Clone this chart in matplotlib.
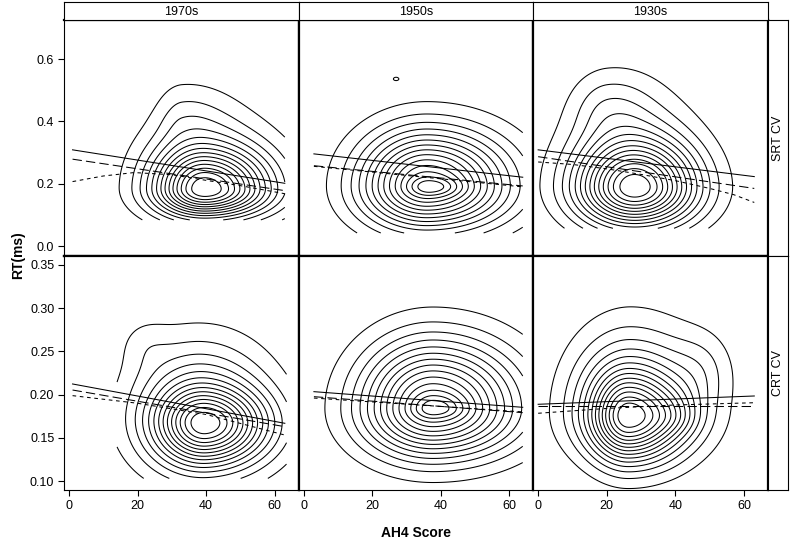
import numpy as np
import matplotlib.pyplot as plt

plt.rcParams['font.family'] = ['Liberation Sans', 'DejaVu Sans']

decades = ['1970s', '1950s', '1930s']
measures = ['SRT CV', 'CRT CV']
y_limits = {'SRT CV': (-0.032, 0.726), 'CRT CV': (0.0896, 0.3604)}
y_ticks = {'SRT CV': [0.0, 0.2, 0.4, 0.6],
           'CRT CV': [0.10, 0.15, 0.20, 0.25, 0.30, 0.35]}
y_ticklabels = {'SRT CV': ['0.0', '0.2', '0.4', '0.6'],
                'CRT CV': ['0.10', '0.15', '0.20', '0.25', '0.30', '0.35']}
x_ticks = [0, 20, 40, 60]

# data range (AH4 min/max, RT min/max) over which each density was estimated
grid_x = {('SRT CV', '1970s'): (14, 63), ('SRT CV', '1950s'): (4, 64), ('SRT CV', '1930s'): (0, 62),
          ('CRT CV', '1970s'): (14, 63.5), ('CRT CV', '1950s'): (3, 64), ('CRT CV', '1930s'): (0, 60)}
grid_y = {('SRT CV', '1970s'): (0.084, 0.62), ('SRT CV', '1950s'): (0.042, 0.62), ('SRT CV', '1930s'): (0.057, 0.65),
          ('CRT CV', '1970s'): (0.103, 0.34), ('CRT CV', '1950s'): (0.08, 0.34), ('CRT CV', '1930s'): (0.09, 0.33)}

# density bumps:
# weight, AH4 centre, RT centre, AH4 sd left/right, RT sd below/above
density_parts = {
    ('SRT CV', '1970s'): [(0.65, 40, 0.18, 9.5, 12.5, 0.06, 0.09),
                          (0.30, 38, 0.19, 12, 15, 0.07, 0.15),
                          (0.08, 33, 0.42, 5, 10, 0.06, 0.08)],
    ('SRT CV', '1950s'): [(0.85, 36, 0.193, 13, 16, 0.093, 0.12),
                          (0.15, 37, 0.19, 4, 6, 0.02, 0.02),
                          (0.07, 27, 0.537, 1.2, 1.2, 0.008, 0.008)],
    ('SRT CV', '1930s'): [(0.65, 28.5, 0.185, 11, 12, 0.085, 0.10),
                          (0.30, 27, 0.20, 13, 13, 0.09, 0.18),
                          (0.10, 20, 0.45, 7, 9, 0.07, 0.08)],
    ('CRT CV', '1970s'): [(0.55, 40, 0.165, 9, 12, 0.03, 0.027),
                          (0.45, 38, 0.175, 13, 14, 0.045, 0.055),
                          (0.05, 22, 0.26, 5, 5, 0.02, 0.02)],
    ('CRT CV', '1950s'): [(0.85, 37.8, 0.184, 14, 17, 0.038, 0.052),
                          (0.15, 38, 0.184, 4, 6, 0.008, 0.01)],
    ('CRT CV', '1930s'): [(0.55, 26.1, 0.1726, 7, 10, 0.035, 0.035),
                          (0.45, 27, 0.18, 12, 14, 0.038, 0.062),
                          (0.10, 40, 0.175, 5, 5, 0.015, 0.02),
                          (0.08, 48, 0.23, 6, 6, 0.03, 0.03)],
}

# fitted lines: solid, long dash, short dash
solid_x = {('SRT CV', '1970s'): [1, 63], ('SRT CV', '1950s'): [3, 64], ('SRT CV', '1930s'): [0, 63],
           ('CRT CV', '1970s'): [1, 63], ('CRT CV', '1950s'): [3, 64], ('CRT CV', '1930s'): [0, 63]}
solid_y = {('SRT CV', '1970s'): [0.309, 0.2015], ('SRT CV', '1950s'): [0.296, 0.221], ('SRT CV', '1930s'): [0.309, 0.223],
           ('CRT CV', '1970s'): [0.2123, 0.1668], ('CRT CV', '1950s'): [0.2034, 0.1853], ('CRT CV', '1930s'): [0.1888, 0.1984]}
long_x = solid_x
long_y = {('SRT CV', '1970s'): [0.279, 0.178], ('SRT CV', '1950s'): [0.258, 0.193], ('SRT CV', '1930s'): [0.287, 0.185],
          ('CRT CV', '1970s'): [0.2053, 0.1629], ('CRT CV', '1950s'): [0.1976, 0.1791], ('CRT CV', '1930s'): [0.1872, 0.1872]}
short_x = {('SRT CV', '1970s'): [1, 10, 19, 30, 40, 50, 63],
           ('SRT CV', '1950s'): [3, 64],
           ('SRT CV', '1930s'): [0, 10, 20, 30, 40, 50, 57, 63],
           ('CRT CV', '1970s'): [1, 20, 40, 63],
           ('CRT CV', '1950s'): [3, 64],
           ('CRT CV', '1930s'): [0, 20, 40, 63]}
short_y = {('SRT CV', '1970s'): [0.207, 0.225, 0.236, 0.229, 0.211, 0.194, 0.168],
           ('SRT CV', '1950s'): [0.256, 0.190],
           ('SRT CV', '1930s'): [0.27, 0.262, 0.248, 0.23, 0.21, 0.185, 0.165, 0.14],
           ('CRT CV', '1970s'): [0.1988, 0.19, 0.177, 0.1532],
           ('CRT CV', '1950s'): [0.196, 0.180],
           ('CRT CV', '1930s'): [0.1784, 0.184, 0.188, 0.1906]}


def density(parts, xr, yr):
    xs = np.linspace(xr[0], xr[1], 200)
    ys = np.linspace(yr[0], yr[1], 200)
    X, Y = np.meshgrid(xs, ys)
    z = np.zeros_like(X)
    for w, mx, my, sxl, sxr, syd, syu in parts:
        sx = np.where(X < mx, sxl, sxr)
        sy = np.where(Y < my, syd, syu)
        z += w * np.exp(-0.5 * ((X - mx) / sx) ** 2 - 0.5 * ((Y - my) / sy) ** 2)
    return X, Y, z


W, H = 790, 543
fig = plt.figure(figsize=(W / 100, H / 100), dpi=100)

col_edges = [64, 298.5, 533, 768]
row_edges = [20, 256, 490]


def rect(x0, x1, y0, y1):
    return [x0 / W, 1 - y1 / H, (x1 - x0) / W, (y1 - y0) / H]


for i, m in enumerate(measures):
    for j, d in enumerate(decades):
        ax = fig.add_axes(rect(col_edges[j], col_edges[j + 1], row_edges[i], row_edges[i + 1]))
        key = (m, d)
        X, Y, z = density(density_parts[key], grid_x[key], grid_y[key])
        levels = np.linspace(0, z.max(), 16)[1:-1]
        ax.contour(X, Y, z, levels=levels, colors='black', linewidths=0.75)
        ax.plot(solid_x[key], solid_y[key], color='black', lw=0.75)
        ax.plot(long_x[key], long_y[key], color='black', lw=0.75, dashes=(9, 4))
        ax.plot(short_x[key], short_y[key], color='black', lw=0.75, dashes=(3.5, 3.5))
        ax.set_xlim(-1.5, 67)
        ax.set_ylim(*y_limits[m])
        for s in ax.spines.values():
            s.set_linewidth(1.6)
        if j == 0:
            ax.spines['left'].set_linewidth(0.8)
            ax.set_yticks(y_ticks[m])
            ax.set_yticklabels(y_ticklabels[m])
        else:
            ax.set_yticks([])
        if i == 1:
            ax.spines['bottom'].set_linewidth(0.8)
            ax.set_xticks(x_ticks)
        else:
            ax.set_xticks([])
        ax.tick_params(direction='out', length=4, width=0.8, labelsize=9, pad=3)

# top strips
for j, d in enumerate(decades):
    sa = fig.add_axes(rect(col_edges[j], col_edges[j + 1], 2, 20))
    sa.set_xticks([])
    sa.set_yticks([])
    for s in sa.spines.values():
        s.set_linewidth(0.8)
    sa.text(0.5, 0.45, d, ha='center', va='center', fontsize=9, transform=sa.transAxes)

# right strips
for i, m in enumerate(measures):
    sa = fig.add_axes(rect(768, 788, row_edges[i], row_edges[i + 1]))
    sa.set_xticks([])
    sa.set_yticks([])
    for s in sa.spines.values():
        s.set_linewidth(0.8)
    sa.text(0.5, 0.5, m, ha='center', va='center', rotation=90, fontsize=9, transform=sa.transAxes)

fig.text(18 / W, 1 - 255 / H, 'RT(ms)', rotation=90, ha='center', va='center',
         fontsize=10, fontweight='bold')
fig.text(416 / W, 1 - 533 / H, 'AH4 Score', ha='center', va='center',
         fontsize=10, fontweight='bold')

fig.savefig('out.png', dpi=100)
